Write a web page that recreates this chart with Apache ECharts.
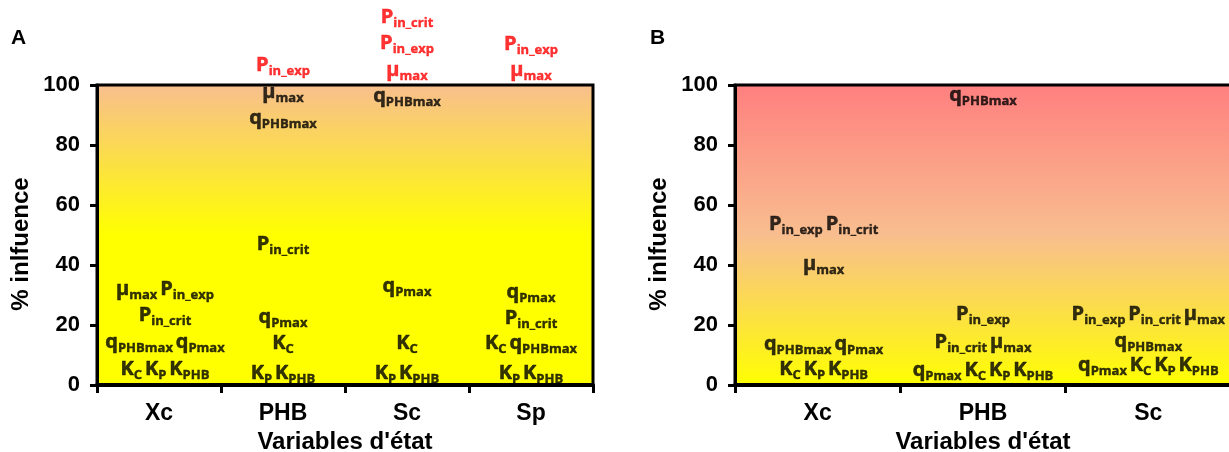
<!DOCTYPE html>
<html>
<head>
<meta charset="utf-8">
<script src="https://cdn.jsdelivr.net/npm/echarts@6/dist/echarts.min.js"></script>
<style>
html,body{margin:0;padding:0;background:#fff;}
#c{width:1229px;height:452px;}
</style>
</head>
<body>
<div id="c"></div>
<script>
// ---- data ----
const catsA = ['Xc', 'PHB', 'Sc', 'Sp'];
const catsB = ['Xc', 'PHB', 'Sc'];
const yMin = 0, yMax = 100, yStep = 20;

// [state variable, % influence, parameters sharing this position, red?]
const labelsA = [
  ['Xc', 31.9, ['μmax', 'Pin_exp'], 0],
  ['Xc', 23.4, ['Pin_crit'], 0],
  ['Xc', 14.3, ['qPHBmax', 'qPmax'], 0],
  ['Xc', 5.3, ['KC', 'KP', 'KPHB'], 0],
  ['PHB', 106.5, ['Pin_exp'], 1],
  ['PHB', 97.6, ['μmax'], 0],
  ['PHB', 89.0, ['qPHBmax'], 0],
  ['PHB', 47.0, ['Pin_crit'], 0],
  ['PHB', 22.6, ['qPmax'], 0],
  ['PHB', 14.0, ['KC'], 0],
  ['PHB', 3.9, ['KP', 'KPHB'], 0],
  ['Sc', 122.7, ['Pin_crit'], 1],
  ['Sc', 113.8, ['Pin_exp'], 1],
  ['Sc', 105.0, ['μmax'], 1],
  ['Sc', 96.2, ['qPHBmax'], 0],
  ['Sc', 32.9, ['qPmax'], 0],
  ['Sc', 14.0, ['KC'], 0],
  ['Sc', 3.9, ['KP', 'KPHB'], 0],
  ['Sp', 113.6, ['Pin_exp'], 1],
  ['Sp', 104.8, ['μmax'], 1],
  ['Sp', 31.0, ['qPmax'], 0],
  ['Sp', 22.4, ['Pin_crit'], 0],
  ['Sp', 14.0, ['KC', 'qPHBmax'], 0],
  ['Sp', 3.8, ['KP', 'KPHB'], 0]
];
const labelsB = [
  ['Xc', 53.6, ['Pin_exp', 'Pin_crit'], 0],
  ['Xc', 40.4, ['μmax'], 0],
  ['Xc', 13.7, ['qPHBmax', 'qPmax'], 0],
  ['Xc', 5.3, ['KC', 'KP', 'KPHB'], 0],
  ['PHB', 96.7, ['qPHBmax'], 0],
  ['PHB', 23.6, ['Pin_exp'], 0],
  ['PHB', 14.2, ['Pin_crit', 'μmax'], 0],
  ['PHB', 5.0, ['qPmax', 'KC', 'KP', 'KPHB'], 0],
  ['Sc', 23.7, ['Pin_exp', 'Pin_crit', 'μmax'], 0],
  ['Sc', 14.7, ['qPHBmax'], 0],
  ['Sc', 6.6, ['qPmax', 'KC', 'KP', 'KPHB'], 0]
];

// parameter symbol -> [main glyph, subscript]
const TERMS = {
  'μmax': ['μ', 'max'], 'Pin_exp': ['P', 'in_exp'], 'Pin_crit': ['P', 'in_crit'],
  'qPHBmax': ['q', 'PHBmax'], 'qPmax': ['q', 'Pmax'],
  'KC': ['K', 'C'], 'KP': ['K', 'P'], 'KPHB': ['K', 'PHB']
};

// ---- styling ----
const LF = '"Open Sans"';
const AF = '"Liberation Sans", Arial, sans-serif';
const colShift = {Xc: 6};   // horizontal label nudge (px) per column
function richFor(color) {
  const base = {fontFamily: LF, fontWeight: 'bold', color: color, textBorderColor: color, textBorderWidth: 0.5};
  return {
    m: Object.assign({}, base, {fontSize: 20, lineHeight: 25, verticalAlign: 'middle'}),
    s: Object.assign({}, base, {fontSize: 13, lineHeight: 10, verticalAlign: 'bottom', textBorderWidth: 0.4}),
    g: {fontFamily: LF, fontSize: 11, lineHeight: 25, color: color}
  };
}
function fmt(terms) {
  return terms.map(t => '{m|' + TERMS[t][0] + '}{s|' + TERMS[t][1] + '}').join('{g| }');
}
function series(idx, labels) {
  const mk = (red) => {
    const col = red ? '#FF0000' : '#000000';
    return {
      type: 'scatter', xAxisIndex: idx, yAxisIndex: idx, symbolSize: 1, clip: false,
      itemStyle: {color: 'rgba(0,0,0,0)'},
      silent: true,
      label: {show: true, position: 'inside', align: 'center', verticalAlign: 'middle',
        color: col, textShadowBlur: 0,
        formatter: p => fmt(p.data.terms), rich: richFor(col)},
      data: labels.filter(l => l[3] === red).map(l => ({
        value: [l[0], l[1]], terms: l[2],
        label: {offset: [colShift[l[0]] || 0, 0]}
      })),
      z: 5
    };
  };
  return [mk(0), mk(1)];
}
function grad(stops) {
  return new echarts.graphic.LinearGradient(0, 0, 0, 1, stops.map(s => ({offset: s[0], color: s[1]})));
}
function xAx(idx, cats) {
  return {
    type: 'category', gridIndex: idx, data: cats, boundaryGap: true,
    axisLine: {show: true, lineStyle: {color: '#000', width: 4}},
    axisTick: {show: true, length: 8, lineStyle: {color: '#000', width: 3}},
    axisLabel: {margin: 17, color: '#000', fontFamily: AF, fontWeight: 'bold', fontSize: 23},
    splitLine: {show: false},
    name: "Variables d'état", nameLocation: 'middle', nameGap: 37,
    nameTextStyle: {color: '#000', fontFamily: AF, fontWeight: 'bold', fontSize: 24}
  };
}
function yAx(idx) {
  return {
    type: 'value', gridIndex: idx, min: yMin, max: yMax, interval: yStep,
    axisLine: {show: true, lineStyle: {color: '#000', width: 3}},
    axisTick: {show: true, length: 7, lineStyle: {color: '#000', width: 3}},
    axisLabel: {margin: 17, color: '#000', fontFamily: AF, fontWeight: 'bold', fontSize: 22},
    splitLine: {show: false},
    name: '% inlfuence', nameLocation: 'middle', nameGap: 64,
    nameTextStyle: {color: '#000', fontFamily: AF, fontWeight: 'bold', fontSize: 24, padding: [0, 18, 0, 0]}
  };
}

const chart = echarts.init(document.getElementById('c'), null, {renderer: 'canvas'});
chart.setOption({
  animation: false,
  backgroundColor: '#fff',
  grid: [
    {left: 97, top: 85, width: 496, height: 300, show: true, borderWidth: 3, borderColor: '#000',
      outerBoundsMode: 'none', containLabel: false,
      backgroundColor: grad([[0, '#F8BE8F'], [0.5, '#FFFF00'], [1, '#FFFF00']])},
    {left: 735, top: 85, width: 496, height: 300, show: true, borderWidth: 3, borderColor: '#000',
      outerBoundsMode: 'none', containLabel: false,
      backgroundColor: grad([[0, '#FF7F7F'], [0.5, '#F8BE8F'], [1, '#FFFF00']])}
  ],
  xAxis: [xAx(0, catsA), xAx(1, catsB)],
  yAxis: [yAx(0), yAx(1)],
  graphic: [
    {type: 'text', left: 11, top: 28, style: {text: 'A', fill: '#000', font: 'bold 21px "Liberation Sans", Arial'}},
    {type: 'text', left: 650, top: 28, style: {text: 'B', fill: '#000', font: 'bold 21px "Liberation Sans", Arial'}}
  ],
  series: [...series(0, labelsA), ...series(1, labelsB)]
});
</script>
</body>
</html>
